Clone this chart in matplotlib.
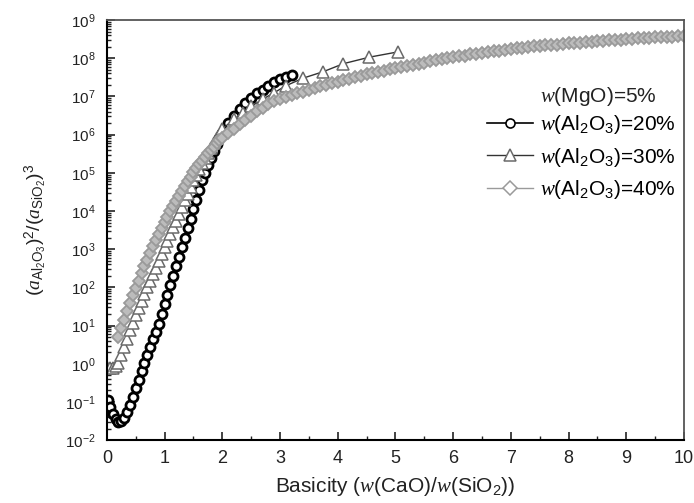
import matplotlib
matplotlib.use("Agg")
import matplotlib.pyplot as plt
from matplotlib.lines import Line2D
from matplotlib.ticker import LogLocator, MultipleLocator, NullFormatter

plt.rcParams['font.family'] = ['Liberation Sans', 'DejaVu Sans']
plt.rcParams['mathtext.fontset'] = 'custom'
plt.rcParams['mathtext.rm'] = 'Liberation Sans'
plt.rcParams['mathtext.it'] = 'Liberation Serif:italic'
plt.rcParams['mathtext.bf'] = 'Liberation Sans:bold'

# w(Al2O3)=20%  (values are log10 of the activity ratio)
basicity_20 = [0.02, 0.05, 0.10, 0.15, 0.20, 0.25, 0.30, 0.35, 0.40, 0.45,
               0.50, 0.55, 0.60, 0.65, 0.70, 0.75, 0.80, 0.85, 0.90, 0.95,
               1.00, 1.05, 1.10, 1.15, 1.20, 1.25, 1.30, 1.35, 1.40, 1.45,
               1.50, 1.55, 1.60, 1.65, 1.70, 1.75, 1.80, 1.85, 1.90, 1.95,
               2.00, 2.10, 2.20, 2.30, 2.40, 2.50, 2.60, 2.70, 2.80, 2.90,
               3.00, 3.10, 3.20]
log_ratio_20 = [-0.95, -1.12, -1.32, -1.45, -1.52, -1.50, -1.42, -1.27, -1.08, -0.86,
                -0.64, -0.42, -0.20, 0.02, 0.24, 0.44, 0.64, 0.84, 1.05, 1.30,
                1.57, 1.80, 2.05, 2.30, 2.55, 2.80, 3.05, 3.30, 3.55, 3.80,
                4.05, 4.30, 4.55, 4.80, 5.00, 5.20, 5.40, 5.58, 5.75, 5.90,
                6.05, 6.30, 6.50, 6.68, 6.83, 6.96, 7.08, 7.18, 7.28, 7.37,
                7.45, 7.51, 7.55]

# w(Al2O3)=30%
basicity_30 = [0.00, 0.05, 0.10, 0.15, 0.20, 0.25, 0.30, 0.35, 0.40, 0.45,
               0.50, 0.55, 0.60, 0.65, 0.70, 0.75, 0.80, 0.85, 0.90, 0.95,
               1.00, 1.05, 1.10, 1.15, 1.20, 1.25, 1.30, 1.35, 1.40, 1.45,
               1.50, 1.55, 1.60, 1.65, 1.70, 1.75, 1.80, 1.85, 1.90,
               2.00, 2.20, 2.35, 2.50, 2.70, 2.90, 3.10, 3.40, 3.75, 4.10,
               4.55, 5.05]
log_ratio_30 = [-0.08, -0.12, -0.12, -0.07, 0.03, 0.22, 0.44, 0.66, 0.88, 1.08,
                1.28, 1.46, 1.64, 1.82, 2.00, 2.17, 2.35, 2.52, 2.70, 2.88,
                3.05, 3.22, 3.40, 3.58, 3.75, 3.92, 4.10, 4.28, 4.45, 4.62,
                4.80, 4.95, 5.10, 5.25, 5.40, 5.52, 5.65, 5.78, 5.90,
                6.15, 6.40, 6.57, 6.74, 6.93, 7.10, 7.28, 7.48, 7.65, 7.86,
                8.03, 8.17]

# w(Al2O3)=40%
basicity_40 = [0.20, 0.25, 0.30, 0.35, 0.40, 0.45, 0.50, 0.55, 0.60, 0.65,
               0.70, 0.75, 0.80, 0.85, 0.90, 0.95, 1.00, 1.05, 1.10, 1.15,
               1.20, 1.25, 1.30, 1.35, 1.40, 1.45, 1.50, 1.55, 1.60, 1.65,
               1.70, 1.75, 1.80, 1.85, 1.90, 1.95, 2.00,
               2.1, 2.2, 2.3, 2.4, 2.5, 2.6, 2.7, 2.8, 2.9, 3.0,
               3.1, 3.2, 3.3, 3.4, 3.5, 3.6, 3.7, 3.8, 3.9, 4.0,
               4.1, 4.2, 4.3, 4.4, 4.5, 4.6, 4.7, 4.8, 4.9, 5.0,
               5.1, 5.2, 5.3, 5.4, 5.5, 5.6, 5.7, 5.8, 5.9, 6.0,
               6.1, 6.2, 6.3, 6.4, 6.5, 6.6, 6.7, 6.8, 6.9, 7.0,
               7.1, 7.2, 7.3, 7.4, 7.5, 7.6, 7.7, 7.8, 7.9, 8.0,
               8.1, 8.2, 8.3, 8.4, 8.5, 8.6, 8.7, 8.8, 8.9, 9.0,
               9.1, 9.2, 9.3, 9.4, 9.5, 9.6, 9.7, 9.8, 9.9, 10.0]
log_ratio_40 = [0.70, 0.93, 1.15, 1.37, 1.58, 1.79, 1.99, 2.18, 2.37, 2.55,
                2.73, 2.91, 3.08, 3.24, 3.40, 3.55, 3.70, 3.85, 3.99, 4.13,
                4.27, 4.40, 4.53, 4.66, 4.78, 4.90, 5.01, 5.12, 5.22, 5.32,
                5.42, 5.51, 5.60, 5.69, 5.77, 5.85, 5.92,
                6.04, 6.16, 6.28, 6.39, 6.50, 6.61, 6.71, 6.80, 6.88, 6.94,
                6.99, 7.04, 7.09, 7.13, 7.18, 7.23, 7.27, 7.31, 7.35, 7.39,
                7.43, 7.47, 7.51, 7.54, 7.58, 7.61, 7.65, 7.68, 7.71, 7.74,
                7.77, 7.80, 7.83, 7.86, 7.89, 7.92, 7.95, 7.98, 8.00, 8.03,
                8.05, 8.07, 8.10, 8.12, 8.14, 8.16, 8.18, 8.20, 8.22, 8.24,
                8.26, 8.27, 8.29, 8.31, 8.32, 8.34, 8.35, 8.36, 8.38, 8.39,
                8.40, 8.41, 8.43, 8.44, 8.45, 8.46, 8.47, 8.48, 8.49, 8.50,
                8.51, 8.52, 8.53, 8.54, 8.55, 8.55, 8.56, 8.57, 8.58, 8.59]

labels = [r'$w$(Al$_2$O$_3$)=20%', r'$w$(Al$_2$O$_3$)=30%', r'$w$(Al$_2$O$_3$)=40%']

fig = plt.figure(figsize=(6.94, 5.03), dpi=100)
ax = fig.add_axes([0.154, 0.125, 0.8316, 0.835])

ax.plot(basicity_20, [10 ** v for v in log_ratio_20], color='black', lw=1.2,
        marker='o', ms=6.5, mfc='white', mec='black', mew=2.0)
ax.plot(basicity_30, [10 ** v for v in log_ratio_30], color='#333333', lw=1.0,
        marker='^', ms=9, mfc='white', mec='#6a6a6a', mew=1.1)
ax.plot(basicity_40, [10 ** v for v in log_ratio_40], color='#9a9a9a', lw=1.0,
        marker='D', ms=6.5, mfc='#bcbcbc', mec='#9a9a9a', mew=1.3)

ax.set_yscale('log')
ax.set_xlim(0, 10)
ax.set_ylim(1e-2, 1e9)
ax.xaxis.set_major_locator(MultipleLocator(1))
ax.xaxis.set_minor_locator(MultipleLocator(0.5))
ax.yaxis.set_major_locator(LogLocator(base=10, numticks=20))
ax.yaxis.set_minor_locator(LogLocator(base=10, subs=range(2, 10), numticks=20))
ax.yaxis.set_minor_formatter(NullFormatter())
ax.tick_params(which='both', direction='in', top=False, right=False, colors='#222222')
ax.tick_params(which='major', length=6, width=1.2)
ax.tick_params(which='minor', length=3, width=1.0)
ax.tick_params(axis='x', labelsize=13, pad=7)
ax.tick_params(axis='y', labelsize=11, pad=8)

for side in ['left', 'bottom']:
    ax.spines[side].set_linewidth(1.5)
for side in ['top', 'right']:
    ax.spines[side].set_color('#555555')
    ax.spines[side].set_linewidth(1.3)

ax.set_xlabel(r'Basicity ($w$(CaO)/$w$(SiO$_2$))', fontsize=15, color='#222222', labelpad=6)
ax.set_ylabel(r'$(a_{\mathrm{Al_2O_3}})^2/(a_{\mathrm{SiO_2}})^3$', fontsize=14,
              color='#222222', labelpad=12)

ax.text(0.75, 0.817, r'$w$(MgO)=5%', transform=ax.transAxes, fontsize=15,
        va='center', ha='left', color='#222222')
handles = [
    Line2D([], [], color='black', lw=1.2, marker='o', ms=6.5, mfc='white', mec='black', mew=1.2),
    Line2D([], [], color='#333333', lw=1.0, marker='^', ms=9, mfc='white', mec='#6a6a6a', mew=1.1),
    Line2D([], [], color='#9a9a9a', lw=1.0, marker='D', ms=7.5, mfc='white', mec='#9a9a9a', mew=1.1),
]
ax.legend(handles, labels, loc='upper left', bbox_to_anchor=(0.659, 0.778), frameon=False,
          fontsize=15, handlelength=2.2, handletextpad=0.35, labelspacing=0.45,
          borderpad=0, borderaxespad=0)

fig.savefig('out.png', dpi=100)
